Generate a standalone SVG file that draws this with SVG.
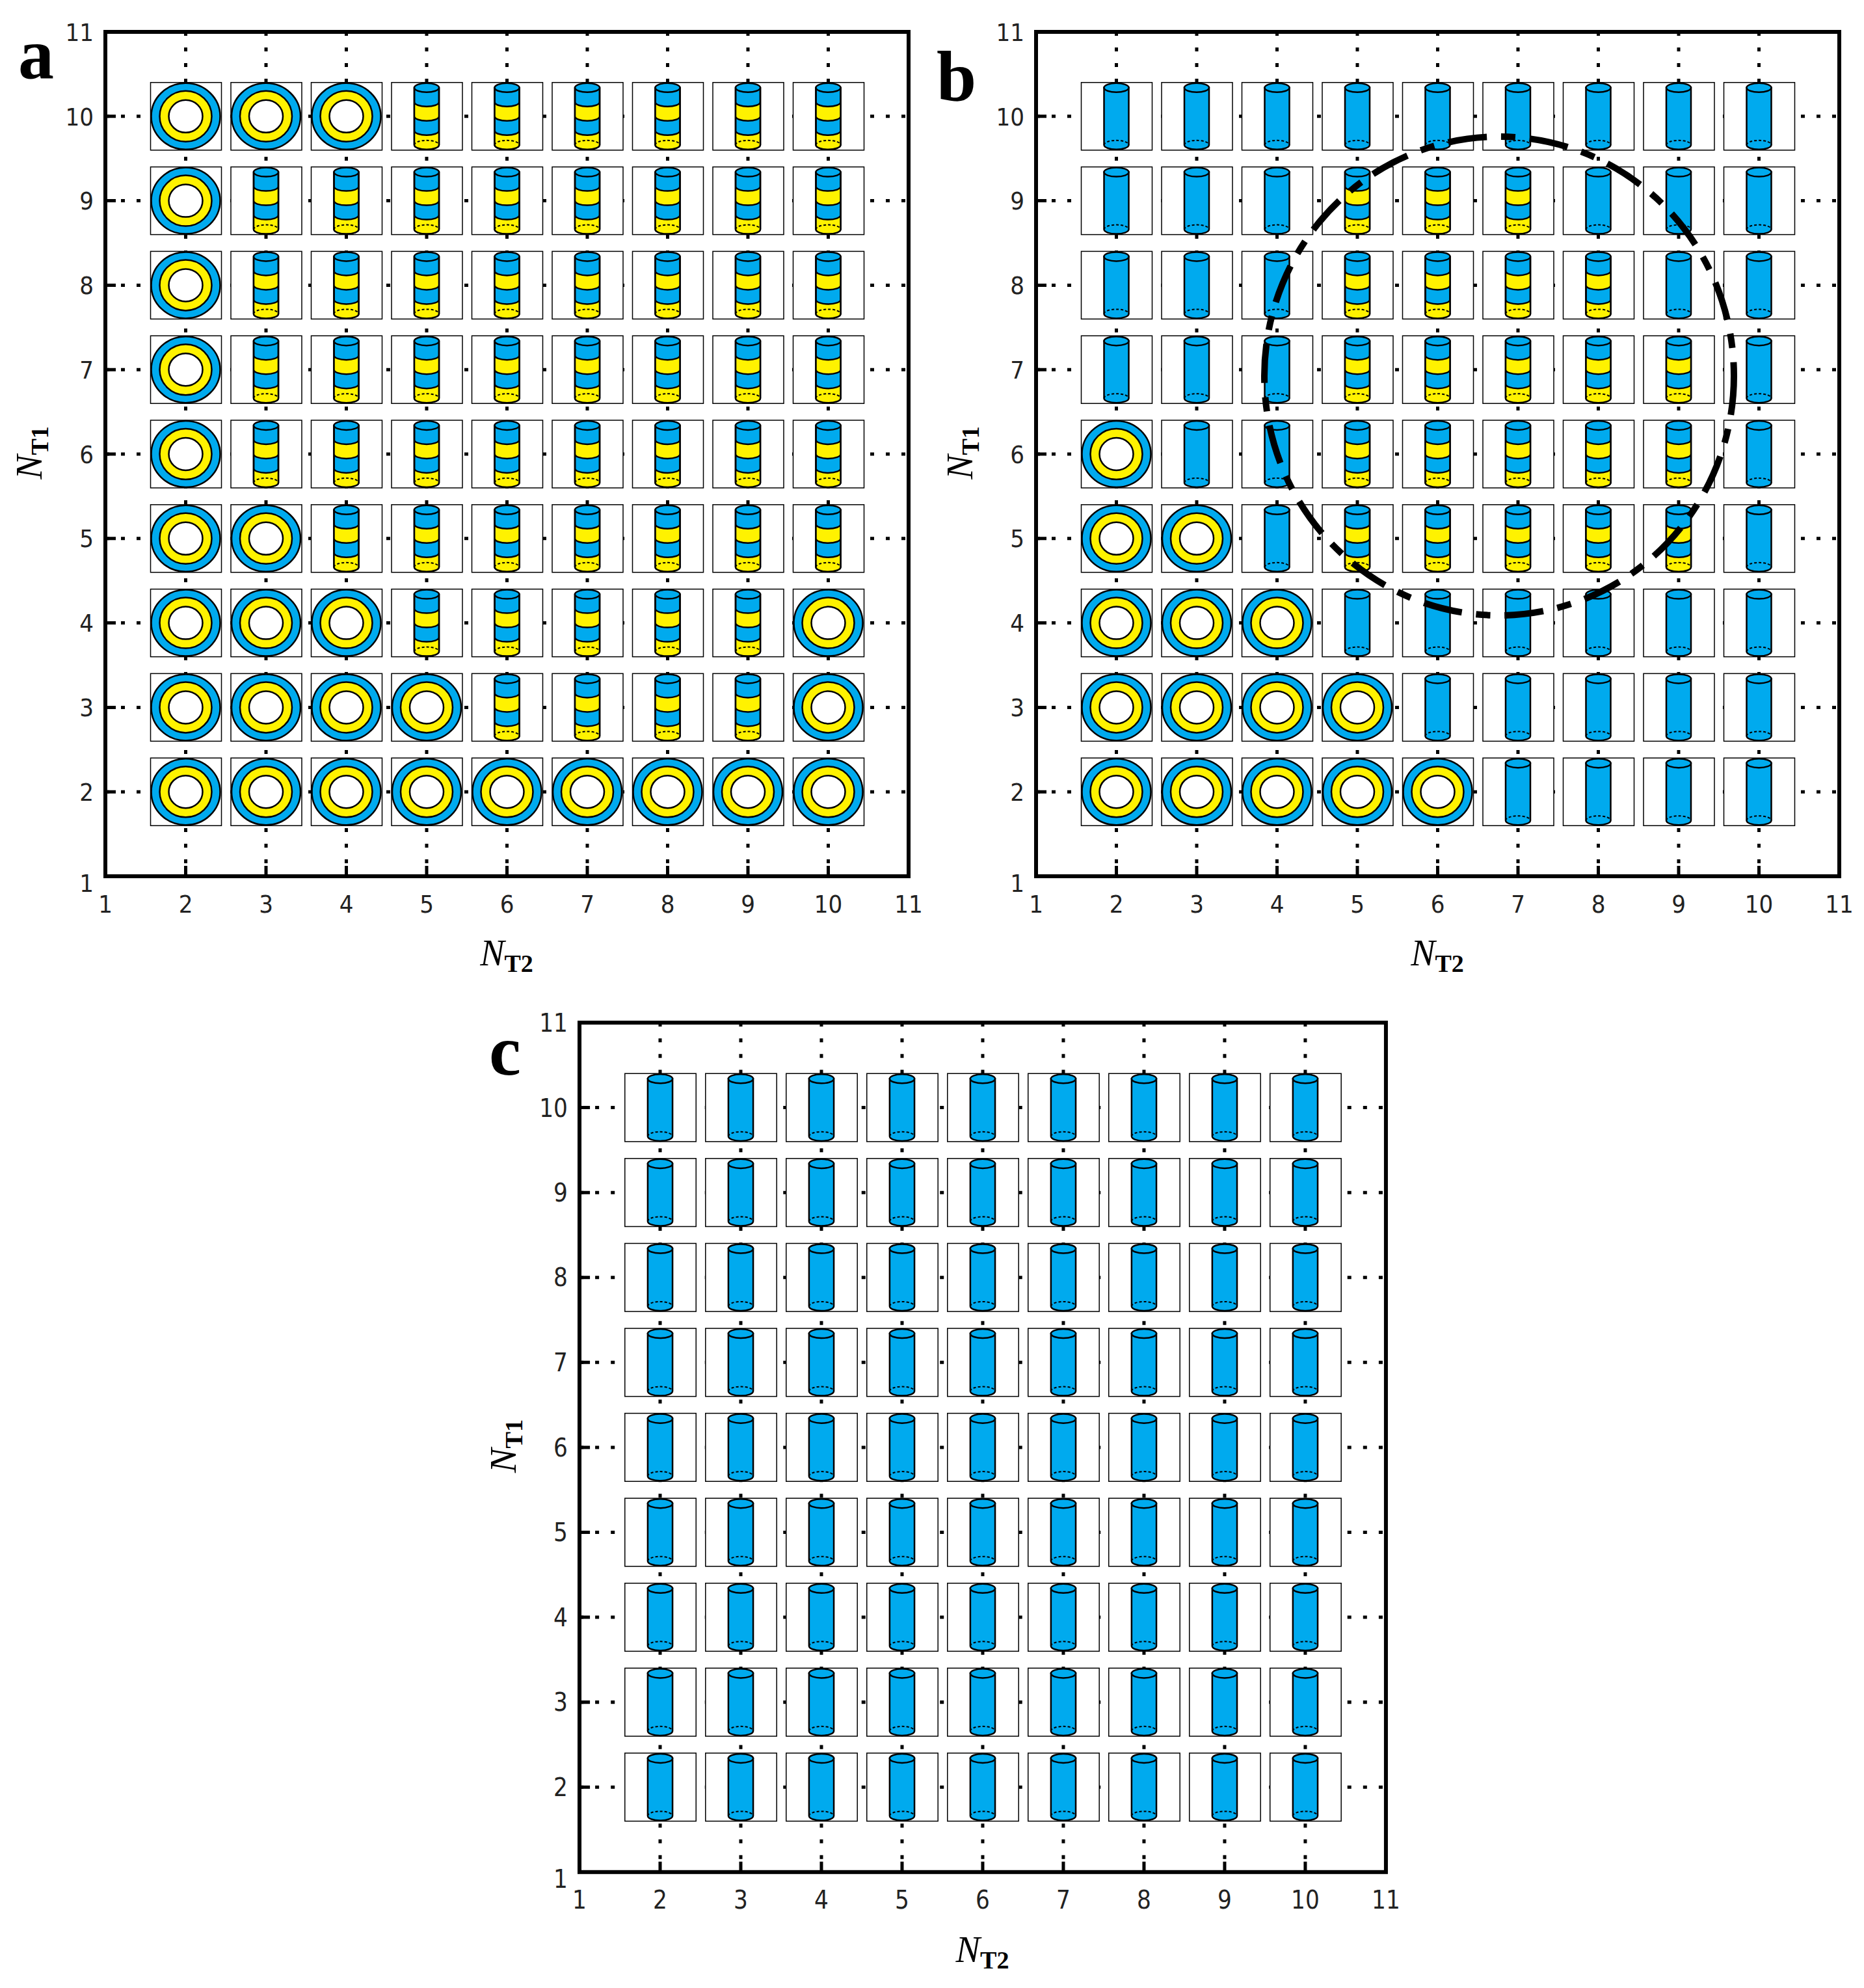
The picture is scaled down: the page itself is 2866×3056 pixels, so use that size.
<svg xmlns="http://www.w3.org/2000/svg" xmlns:xlink="http://www.w3.org/1999/xlink" width="2866" height="3056" viewBox="0 0 2866 3056">
<style>
.frame{fill:none;stroke:#000;stroke-width:6}
.grid{stroke:#000;stroke-width:5;stroke-dasharray:6 18}
.tick{stroke:#000;stroke-width:5}
.box{fill:#fff;stroke:#000;stroke-width:1.5}
.bl{fill:#00aaee;stroke:#000;stroke-width:2.5}
.ye{fill:#fff200;stroke:#000;stroke-width:2.5}
.wh{fill:#fff;stroke:#000;stroke-width:2.5}
.dash{fill:none;stroke:#000;stroke-width:2;stroke-dasharray:4 3}
.ln{fill:none;stroke:#000;stroke-width:2.5}
.tl{font-family:"DejaVu Sans Condensed","Liberation Sans Narrow","Liberation Sans",sans-serif;font-size:38px;fill:#222}
.ax{font-family:"Liberation Serif",serif;font-size:56px;font-style:italic}
.sub{font-size:38px;font-style:normal;font-weight:bold}
.let{font-family:"Liberation Serif",serif;font-weight:bold;font-size:110px}
</style>
<defs>
<g id="ring">
<rect class="box" x="-54" y="-52" width="109" height="104"/>
<ellipse class="bl" cx="0" cy="0" rx="53" ry="51"/>
<ellipse class="ye" cx="0" cy="0" rx="40" ry="39"/>
<ellipse class="wh" cx="0" cy="0" rx="26" ry="25"/>
</g>
<g id="cyl">
<rect class="box" x="-54" y="-52" width="109" height="104"/>
<path class="bl" d="M-19,-44 L-19,44 A19,7 0 0 0 19,44 L19,-44 Z"/>
<path class="dash" d="M-19,44 A19,7 0 0 1 19,44"/>
<ellipse class="bl" cx="0" cy="-44" rx="19" ry="7"/>
</g>
<g id="str">
<rect class="box" x="-54" y="-52" width="109" height="104"/>
<path class="bl" d="M-19,-44 L-19,44 A19,7 0 0 0 19,44 L19,-44 Z"/>
<path fill="#fff200" d="M-19,-22 A19,7 0 0 0 19,-22 L19,0 A19,7 0 0 1 -19,0 Z"/>
<path fill="#fff200" d="M-19,22 A19,7 0 0 0 19,22 L19,44 A19,7 0 0 1 -19,44 Z"/>
<path class="ln" d="M-19,-44 L-19,44 A19,7 0 0 0 19,44 L19,-44 M-19,-22 A19,7 0 0 0 19,-22 M-19,0 A19,7 0 0 0 19,0 M-19,22 A19,7 0 0 0 19,22"/>
<path class="dash" d="M-19,44 A19,7 0 0 1 19,44"/>
<ellipse class="bl" cx="0" cy="-44" rx="19" ry="7"/>
</g>
<g id="axes">
<g>
<line class="grid" x1="123.5" y1="0" x2="123.5" y2="1298"/><line class="grid" x1="247" y1="0" x2="247" y2="1298"/><line class="grid" x1="370.5" y1="0" x2="370.5" y2="1298"/><line class="grid" x1="494" y1="0" x2="494" y2="1298"/><line class="grid" x1="617.5" y1="0" x2="617.5" y2="1298"/><line class="grid" x1="741" y1="0" x2="741" y2="1298"/><line class="grid" x1="864.5" y1="0" x2="864.5" y2="1298"/><line class="grid" x1="988" y1="0" x2="988" y2="1298"/><line class="grid" x1="1111.5" y1="0" x2="1111.5" y2="1298"/>
<line class="grid" x1="0" y1="129.8" x2="1235" y2="129.8"/><line class="grid" x1="0" y1="259.6" x2="1235" y2="259.6"/><line class="grid" x1="0" y1="389.4" x2="1235" y2="389.4"/><line class="grid" x1="0" y1="519.2" x2="1235" y2="519.2"/><line class="grid" x1="0" y1="649" x2="1235" y2="649"/><line class="grid" x1="0" y1="778.8" x2="1235" y2="778.8"/><line class="grid" x1="0" y1="908.6" x2="1235" y2="908.6"/><line class="grid" x1="0" y1="1038.4" x2="1235" y2="1038.4"/><line class="grid" x1="0" y1="1168.2" x2="1235" y2="1168.2"/>
<path class="tick" d="M123.5,1298v-16M247,1298v-16M370.5,1298v-16M494,1298v-16M617.5,1298v-16M741,1298v-16M864.5,1298v-16M988,1298v-16M1111.5,1298v-16M0,129.8h16M0,259.6h16M0,389.4h16M0,519.2h16M0,649h16M0,778.8h16M0,908.6h16M0,1038.4h16M0,1168.2h16"/>
</g>
<rect class="frame" x="0" y="0" width="1235" height="1298"/>
<g class="tl" text-anchor="middle">
<text x="0" y="1354">1</text><text x="123.5" y="1354">2</text><text x="247" y="1354">3</text><text x="370.5" y="1354">4</text><text x="494" y="1354">5</text><text x="617.5" y="1354">6</text><text x="741" y="1354">7</text><text x="864.5" y="1354">8</text><text x="988" y="1354">9</text><text x="1111.5" y="1354">10</text><text x="1235" y="1354">11</text>
</g>
<g class="tl" text-anchor="end">
<text x="-18" y="1322">1</text><text x="-18" y="1182">2</text><text x="-18" y="1052">3</text><text x="-18" y="922">4</text><text x="-18" y="792">5</text><text x="-18" y="663">6</text><text x="-18" y="533">7</text><text x="-18" y="403">8</text><text x="-18" y="273">9</text><text x="-18" y="144">10</text><text x="-18" y="14">11</text>
</g>
<text class="ax" x="617" y="1435" text-anchor="middle">N<tspan class="sub" dy="10">T2</tspan></text>
<text class="ax" transform="translate(-98,647) rotate(-90)" text-anchor="middle">N<tspan class="sub" dy="10">T1</tspan></text>
</g>
</defs>

<g id="panel-a" transform="translate(162,49)">
<use href="#axes"/>
<g transform="translate(0,129.8)"><use href="#ring" x="123.5"/><use href="#ring" x="247"/><use href="#ring" x="370.5"/><use href="#str" x="494"/><use href="#str" x="617.5"/><use href="#str" x="741"/><use href="#str" x="864.5"/><use href="#str" x="988"/><use href="#str" x="1111.5"/></g>
<g transform="translate(0,259.6)"><use href="#ring" x="123.5"/><use href="#str" x="247"/><use href="#str" x="370.5"/><use href="#str" x="494"/><use href="#str" x="617.5"/><use href="#str" x="741"/><use href="#str" x="864.5"/><use href="#str" x="988"/><use href="#str" x="1111.5"/></g>
<g transform="translate(0,389.4)"><use href="#ring" x="123.5"/><use href="#str" x="247"/><use href="#str" x="370.5"/><use href="#str" x="494"/><use href="#str" x="617.5"/><use href="#str" x="741"/><use href="#str" x="864.5"/><use href="#str" x="988"/><use href="#str" x="1111.5"/></g>
<g transform="translate(0,519.2)"><use href="#ring" x="123.5"/><use href="#str" x="247"/><use href="#str" x="370.5"/><use href="#str" x="494"/><use href="#str" x="617.5"/><use href="#str" x="741"/><use href="#str" x="864.5"/><use href="#str" x="988"/><use href="#str" x="1111.5"/></g>
<g transform="translate(0,649)"><use href="#ring" x="123.5"/><use href="#str" x="247"/><use href="#str" x="370.5"/><use href="#str" x="494"/><use href="#str" x="617.5"/><use href="#str" x="741"/><use href="#str" x="864.5"/><use href="#str" x="988"/><use href="#str" x="1111.5"/></g>
<g transform="translate(0,778.8)"><use href="#ring" x="123.5"/><use href="#ring" x="247"/><use href="#str" x="370.5"/><use href="#str" x="494"/><use href="#str" x="617.5"/><use href="#str" x="741"/><use href="#str" x="864.5"/><use href="#str" x="988"/><use href="#str" x="1111.5"/></g>
<g transform="translate(0,908.6)"><use href="#ring" x="123.5"/><use href="#ring" x="247"/><use href="#ring" x="370.5"/><use href="#str" x="494"/><use href="#str" x="617.5"/><use href="#str" x="741"/><use href="#str" x="864.5"/><use href="#str" x="988"/><use href="#ring" x="1111.5"/></g>
<g transform="translate(0,1038.4)"><use href="#ring" x="123.5"/><use href="#ring" x="247"/><use href="#ring" x="370.5"/><use href="#ring" x="494"/><use href="#str" x="617.5"/><use href="#str" x="741"/><use href="#str" x="864.5"/><use href="#str" x="988"/><use href="#ring" x="1111.5"/></g>
<g transform="translate(0,1168.2)"><use href="#ring" x="123.5"/><use href="#ring" x="247"/><use href="#ring" x="370.5"/><use href="#ring" x="494"/><use href="#ring" x="617.5"/><use href="#ring" x="741"/><use href="#ring" x="864.5"/><use href="#ring" x="988"/><use href="#ring" x="1111.5"/></g>
</g>

<g id="panel-b" transform="translate(1593,49)">
<use href="#axes"/>
<g transform="translate(0,129.8)"><use href="#cyl" x="123.5"/><use href="#cyl" x="247"/><use href="#cyl" x="370.5"/><use href="#cyl" x="494"/><use href="#cyl" x="617.5"/><use href="#cyl" x="741"/><use href="#cyl" x="864.5"/><use href="#cyl" x="988"/><use href="#cyl" x="1111.5"/></g>
<g transform="translate(0,259.6)"><use href="#cyl" x="123.5"/><use href="#cyl" x="247"/><use href="#cyl" x="370.5"/><use href="#str" x="494"/><use href="#str" x="617.5"/><use href="#str" x="741"/><use href="#cyl" x="864.5"/><use href="#cyl" x="988"/><use href="#cyl" x="1111.5"/></g>
<g transform="translate(0,389.4)"><use href="#cyl" x="123.5"/><use href="#cyl" x="247"/><use href="#cyl" x="370.5"/><use href="#str" x="494"/><use href="#str" x="617.5"/><use href="#str" x="741"/><use href="#str" x="864.5"/><use href="#cyl" x="988"/><use href="#cyl" x="1111.5"/></g>
<g transform="translate(0,519.2)"><use href="#cyl" x="123.5"/><use href="#cyl" x="247"/><use href="#cyl" x="370.5"/><use href="#str" x="494"/><use href="#str" x="617.5"/><use href="#str" x="741"/><use href="#str" x="864.5"/><use href="#str" x="988"/><use href="#cyl" x="1111.5"/></g>
<g transform="translate(0,649)"><use href="#ring" x="123.5"/><use href="#cyl" x="247"/><use href="#cyl" x="370.5"/><use href="#str" x="494"/><use href="#str" x="617.5"/><use href="#str" x="741"/><use href="#str" x="864.5"/><use href="#str" x="988"/><use href="#cyl" x="1111.5"/></g>
<g transform="translate(0,778.8)"><use href="#ring" x="123.5"/><use href="#ring" x="247"/><use href="#cyl" x="370.5"/><use href="#str" x="494"/><use href="#str" x="617.5"/><use href="#str" x="741"/><use href="#str" x="864.5"/><use href="#str" x="988"/><use href="#cyl" x="1111.5"/></g>
<g transform="translate(0,908.6)"><use href="#ring" x="123.5"/><use href="#ring" x="247"/><use href="#ring" x="370.5"/><use href="#cyl" x="494"/><use href="#cyl" x="617.5"/><use href="#cyl" x="741"/><use href="#cyl" x="864.5"/><use href="#cyl" x="988"/><use href="#cyl" x="1111.5"/></g>
<g transform="translate(0,1038.4)"><use href="#ring" x="123.5"/><use href="#ring" x="247"/><use href="#ring" x="370.5"/><use href="#ring" x="494"/><use href="#cyl" x="617.5"/><use href="#cyl" x="741"/><use href="#cyl" x="864.5"/><use href="#cyl" x="988"/><use href="#cyl" x="1111.5"/></g>
<g transform="translate(0,1168.2)"><use href="#ring" x="123.5"/><use href="#ring" x="247"/><use href="#ring" x="370.5"/><use href="#ring" x="494"/><use href="#ring" x="617.5"/><use href="#cyl" x="741"/><use href="#cyl" x="864.5"/><use href="#cyl" x="988"/><use href="#cyl" x="1111.5"/></g>
<ellipse cx="712" cy="529" rx="361" ry="368" fill="none" stroke="#000" stroke-width="10" stroke-dasharray="60 22 22 22"/>
</g>

<g id="panel-c" transform="translate(891,1572) scale(1.004,1.006)">
<use href="#axes"/>
<g transform="translate(0,129.8)"><use href="#cyl" x="123.5"/><use href="#cyl" x="247"/><use href="#cyl" x="370.5"/><use href="#cyl" x="494"/><use href="#cyl" x="617.5"/><use href="#cyl" x="741"/><use href="#cyl" x="864.5"/><use href="#cyl" x="988"/><use href="#cyl" x="1111.5"/></g>
<g transform="translate(0,259.6)"><use href="#cyl" x="123.5"/><use href="#cyl" x="247"/><use href="#cyl" x="370.5"/><use href="#cyl" x="494"/><use href="#cyl" x="617.5"/><use href="#cyl" x="741"/><use href="#cyl" x="864.5"/><use href="#cyl" x="988"/><use href="#cyl" x="1111.5"/></g>
<g transform="translate(0,389.4)"><use href="#cyl" x="123.5"/><use href="#cyl" x="247"/><use href="#cyl" x="370.5"/><use href="#cyl" x="494"/><use href="#cyl" x="617.5"/><use href="#cyl" x="741"/><use href="#cyl" x="864.5"/><use href="#cyl" x="988"/><use href="#cyl" x="1111.5"/></g>
<g transform="translate(0,519.2)"><use href="#cyl" x="123.5"/><use href="#cyl" x="247"/><use href="#cyl" x="370.5"/><use href="#cyl" x="494"/><use href="#cyl" x="617.5"/><use href="#cyl" x="741"/><use href="#cyl" x="864.5"/><use href="#cyl" x="988"/><use href="#cyl" x="1111.5"/></g>
<g transform="translate(0,649)"><use href="#cyl" x="123.5"/><use href="#cyl" x="247"/><use href="#cyl" x="370.5"/><use href="#cyl" x="494"/><use href="#cyl" x="617.5"/><use href="#cyl" x="741"/><use href="#cyl" x="864.5"/><use href="#cyl" x="988"/><use href="#cyl" x="1111.5"/></g>
<g transform="translate(0,778.8)"><use href="#cyl" x="123.5"/><use href="#cyl" x="247"/><use href="#cyl" x="370.5"/><use href="#cyl" x="494"/><use href="#cyl" x="617.5"/><use href="#cyl" x="741"/><use href="#cyl" x="864.5"/><use href="#cyl" x="988"/><use href="#cyl" x="1111.5"/></g>
<g transform="translate(0,908.6)"><use href="#cyl" x="123.5"/><use href="#cyl" x="247"/><use href="#cyl" x="370.5"/><use href="#cyl" x="494"/><use href="#cyl" x="617.5"/><use href="#cyl" x="741"/><use href="#cyl" x="864.5"/><use href="#cyl" x="988"/><use href="#cyl" x="1111.5"/></g>
<g transform="translate(0,1038.4)"><use href="#cyl" x="123.5"/><use href="#cyl" x="247"/><use href="#cyl" x="370.5"/><use href="#cyl" x="494"/><use href="#cyl" x="617.5"/><use href="#cyl" x="741"/><use href="#cyl" x="864.5"/><use href="#cyl" x="988"/><use href="#cyl" x="1111.5"/></g>
<g transform="translate(0,1168.2)"><use href="#cyl" x="123.5"/><use href="#cyl" x="247"/><use href="#cyl" x="370.5"/><use href="#cyl" x="494"/><use href="#cyl" x="617.5"/><use href="#cyl" x="741"/><use href="#cyl" x="864.5"/><use href="#cyl" x="988"/><use href="#cyl" x="1111.5"/></g>
</g>

<g id="labels" class="let">
<text x="28" y="120">a</text>
<text x="1440" y="155">b</text>
<text x="752" y="1652">c</text>
</g>
</svg>
